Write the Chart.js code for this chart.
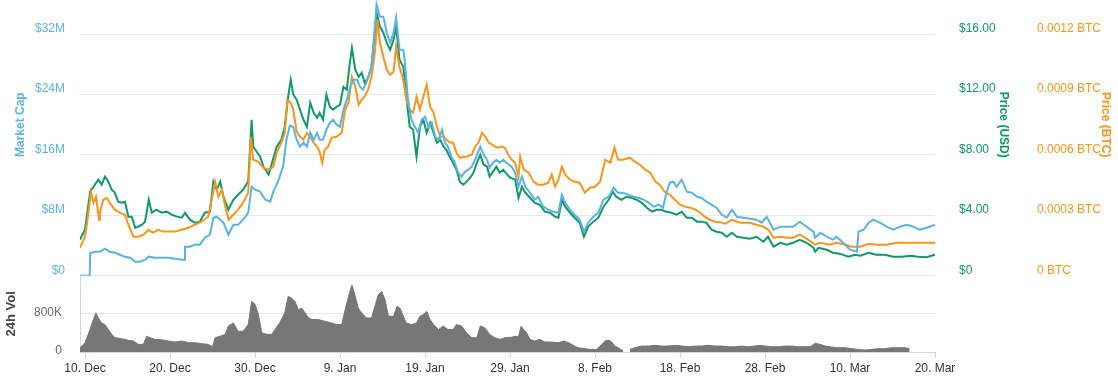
<!DOCTYPE html>
<html>
<head>
<meta charset="utf-8">
<script src="https://cdn.jsdelivr.net/npm/chart.js@4.4.1/dist/chart.umd.min.js"></script>
<style>
  html, body { margin: 0; padding: 0; background: #fff; overflow: hidden; }
  #wrap { position: relative; width: 1118px; height: 376px; overflow: hidden; }
  #mainChart { position: absolute; left: 0; top: -40px; }
  #volChart { position: absolute; left: 0; top: 262px; }
</style>
</head>
<body>
<div id="wrap">
  <canvas id="volChart" width="1118" height="114"></canvas>
  <canvas id="mainChart" width="1118" height="330"></canvas>
</div>
<script>
// x values are days counted from 10 Dec
const xMin = -0.59, xMax = 100;
const xTicks = [0, 10, 20, 30, 40, 50, 60, 70, 80, 90, 100];
const months = ['Jan', 'Feb', 'Mar', 'Apr', 'May', 'Jun', 'Jul', 'Aug', 'Sep', 'Oct', 'Nov', 'Dec'];

// market cap, millions of USD
const marketCap = [
  [-0.6,0],[0.55,0],[0.62,3.05],[0.8,3.05],[1.2,3.18],[1.76,3.18],[2.35,3.58],[2.9,3.18],[3.5,3.05],[4.1,2.78],
  [4.7,2.52],[5.3,2.38],[5.9,1.85],[6.5,1.85],[7.06,2.12],[7.5,2.52],[8.2,2.38],[9.0,2.38],[9.8,2.38],[10.6,2.25],
  [11.4,2.12],[11.7,2.12],[11.76,3.84],[12.35,3.84],[12.9,4.11],[13.5,4.11],[14.1,5.03],[14.7,5.43],[15.1,7.68],[15.5,7.81],
  [15.9,7.42],[16.3,7.02],[16.86,5.43],[17.45,6.75],[18.0,6.75],[18.6,7.42],[19.2,8.34],[19.6,11.79],[20.0,11.39],[20.6,11.13],
  [21.2,10.07],[21.8,9.80],[22.15,11.13],[22.7,12.45],[23.3,14.44],[23.7,18.01],[24.1,19.87],[24.5,19.7],[24.9,18.01],[25.3,17.09],
  [25.7,17.62],[26.1,17.09],[26.5,18.94],[26.9,18.01],[27.3,18.94],[27.6,18.01],[28.0,18.01],[28.4,19.34],[28.8,20.26],[29.2,20.66],
  [29.6,20.0],[30.0,19.73],[30.4,21.99],[30.8,23.31],[31.2,25.03],[31.6,25.96],[32.0,25.96],[32.35,25.03],[32.7,24.64],[33.1,25.56],
  [33.7,27.68],[34.1,32.98],[34.3,35.89],[34.7,34.30],[35.1,34.30],[35.5,32.19],[35.9,30.86],[36.3,32.19],[36.6,34.17],[37.0,29.93],
  [37.45,29.93],[37.6,28.61],[38.0,23.31],[38.4,20.66],[38.8,19.73],[39.2,18.94],[39.6,20.66],[40.0,21.06],[40.4,19.73],[40.8,20.26],
  [41.2,18.41],[41.6,18.01],[42.0,19.34],[42.35,17.62],[42.7,17.09],[43.1,15.76],[43.5,14.97],[43.9,13.64],[44.3,13.11],[44.7,13.77],
  [45.1,14.04],[45.5,14.44],[45.9,15.36],[46.5,17.09],[46.9,16.03],[47.3,15.36],[47.6,14.30],[48.0,14.97],[48.4,15.36],[48.8,14.97],
  [49.2,15.36],[49.6,14.97],[50.0,14.6],[50.2,14.44],[50.6,13.64],[51.0,11.79],[51.4,13.11],[51.8,11.79],[52.35,10.99],[52.9,10.07],
  [53.3,10.46],[53.9,9.14],[54.5,8.74],[55.1,8.48],[55.7,8.34],[56.1,10.73],[56.5,9.67],[57.06,8.74],[57.6,8.08],[58.2,7.42],
  [58.7,5.83],[59.2,7.02],[59.8,7.81],[60.4,8.34],[61.0,10.07],[61.6,10.46],[62.2,11.66],[62.7,10.99],[63.3,10.99],[63.9,10.73],
  [64.5,10.46],[65.1,10.33],[65.7,10.07],[66.3,9.67],[66.9,9.14],[67.45,9.40],[68.0,9.01],[68.4,10.99],[68.8,12.32],[69.2,12.45],
  [69.6,11.79],[70.2,12.72],[70.8,11.13],[71.4,10.99],[72.0,10.46],[72.5,10.33],[73.1,9.80],[73.7,9.40],[74.3,9.01],[74.9,8.1],
  [75.5,7.68],[76.1,8.74],[76.7,7.81],[77.45,7.68],[78.2,7.55],[79.0,7.42],[79.6,7.02],[80.2,7.81],[81.0,6.09],[81.8,6.49],
  [82.55,6.49],[83.3,6.49],[84.1,7.15],[84.9,6.49],[85.7,5.83],[85.9,5.03],[86.5,5.70],[87.25,5.17],[88.0,4.77],[88.4,5.17],
  [89.2,4.37],[90.0,3.44],[90.8,3.18],[91.0,5.83],[91.6,6.09],[92.2,7.02],[92.7,7.42],[93.5,7.02],[94.3,6.49],[95.1,6.09],
  [95.9,6.49],[96.7,6.75],[97.45,6.49],[98.2,6.09],[99.0,6.36],[100,6.75]
];

// price in USD
const priceUsd = [
  [-0.6,2.38],[0,3.05],[0.6,5.56],[1.0,5.89],[1.57,6.36],[1.96,6.03],[2.35,6.56],[2.75,6.23],[3.14,5.70],[3.5,5.50],
  [3.9,4.90],[4.3,4.83],[4.7,4.90],[5.1,3.91],[5.5,3.91],[5.9,3.18],[6.3,3.25],[6.7,3.38],[7.06,3.58],[7.5,5.03],
  [7.85,4.17],[8.4,4.37],[9.0,4.17],[9.6,4.24],[10.2,4.04],[10.8,3.91],[11.4,3.84],[11.76,4.17],[12.35,3.71],[12.9,3.51],
  [13.5,3.58],[14.1,4.17],[14.7,4.24],[15.1,6.23],[15.5,5.70],[15.9,6.23],[16.3,5.23],[16.86,4.37],[17.45,5.03],[18.0,5.36],
  [18.6,5.70],[19.2,6.23],[19.6,10.33],[19.8,8.54],[20.2,8.21],[20.6,7.88],[21.0,7.22],[21.6,6.69],[22.0,7.48],[22.55,8.54],
  [23.1,9.00],[23.5,9.86],[23.9,11.85],[24.2,12.98],[24.5,12.0],[24.9,11.65],[25.3,10.99],[25.7,10.33],[26.1,9.86],[26.5,11.45],
  [26.9,10.79],[27.3,10.46],[27.6,10.79],[28.0,10.33],[28.4,11.98],[28.8,11.19],[29.2,10.99],[29.6,11.19],[30.0,11.32],[30.4,12.51],
  [30.8,12.31],[31.1,13.84],[31.4,15.09],[31.8,13.64],[32.2,13.17],[32.55,13.44],[32.9,12.78],[33.3,13.11],[33.7,13.84],[34.1,16.09],
  [34.3,17.41],[34.7,16.48],[35.1,16.09],[35.5,15.42],[35.9,14.96],[36.3,15.62],[36.6,16.48],[37.0,14.30],[37.45,13.84],[37.8,11.85],
  [38.2,9.86],[38.6,9.67],[39.0,7.88],[39.4,9.86],[39.8,10.33],[40.2,9.47],[40.6,10.13],[41.0,9.47],[41.4,8.80],[41.8,9.00],
  [42.2,8.54],[42.5,8.34],[42.9,7.88],[43.3,7.48],[43.7,7.02],[44.1,6.23],[44.5,6.03],[44.9,6.23],[45.3,6.49],[45.7,6.82],
  [46.1,7.48],[46.5,8.01],[46.9,7.35],[47.3,7.22],[47.6,6.56],[48.0,6.89],[48.4,7.22],[48.8,6.82],[49.2,7.02],[49.6,6.75],
  [50.0,6.49],[50.6,6.36],[51.0,5.16],[51.4,5.89],[51.8,5.50],[52.35,5.16],[52.9,4.83],[53.5,4.70],[54.1,4.24],[54.7,4.17],
  [55.3,3.91],[55.7,3.84],[56.1,5.03],[56.5,4.57],[57.06,4.17],[57.6,3.84],[58.2,3.51],[58.7,2.58],[59.2,3.25],[59.8,3.58],
  [60.4,3.84],[61.0,4.57],[61.6,5.03],[62.1,5.56],[62.5,5.23],[63.1,5.03],[63.7,5.23],[64.3,5.16],[64.9,5.03],[65.5,4.83],
  [66.1,4.50],[66.7,4.24],[67.25,4.37],[67.8,4.37],[68.4,4.24],[69.0,4.17],[69.6,4.04],[70.2,4.24],[70.8,3.84],[71.4,3.84],
  [72.0,3.58],[72.5,3.58],[73.1,3.51],[73.7,3.05],[74.3,2.91],[74.9,2.85],[75.5,2.58],[76.1,2.85],[76.7,2.58],[77.45,2.52],
  [78.2,2.45],[79.0,2.58],[79.8,2.25],[80.35,2.58],[81.0,1.92],[81.8,2.18],[82.55,2.05],[83.3,2.18],[84.1,2.38],[84.9,2.18],
  [85.7,1.85],[85.9,1.59],[86.3,1.85],[87.25,1.72],[88.0,1.52],[88.8,1.46],[89.8,1.26],[90.6,1.39],[91.2,1.32],[92.2,1.52],
  [93.1,1.39],[94.1,1.39],[95.1,1.26],[96.1,1.26],[97.1,1.32],[98.0,1.26],[99.0,1.22],[100,1.39]
];

// price in BTC
const priceBtc = [
  [-0.6,0.000139],[0,0.000194],[0.4,0.000313],[0.7,0.000417],[1.0,0.000363],[1.3,0.000392],[1.65,0.000278],[1.75,0.000313],[2.15,0.000377],[2.55,0.000387],
  [2.9,0.000363],[3.5,0.000328],[4.1,0.000313],[4.7,0.000303],[5.1,0.000253],[5.7,0.000194],[6.3,0.000194],[6.9,0.000204],[7.45,0.000228],[8.0,0.000214],
  [8.6,0.000228],[9.2,0.000219],[9.8,0.000219],[10.6,0.000219],[11.4,0.000228],[12.15,0.000238],[12.9,0.000253],[13.7,0.000268],[14.5,0.000293],[14.9,0.000377],
  [15.3,0.000467],[15.7,0.000392],[16.1,0.000427],[16.5,0.000343],[16.9,0.000278],[17.45,0.000303],[18.0,0.000328],[18.6,0.000363],[19.2,0.000412],[19.5,0.000690],
  [19.8,0.000576],[20.4,0.000566],[21.0,0.000536],[21.6,0.000527],[22.15,0.000541],[22.55,0.000611],[23.1,0.000661],[23.5,0.000710],[23.8,0.000874],[24.2,0.000859],
  [24.5,0.000825],[24.9,0.000715],[25.3,0.000690],[25.7,0.000676],[26.1,0.000710],[26.5,0.000690],[26.9,0.000661],[27.3,0.000641],[27.6,0.000616],[27.9,0.000561],
  [28.2,0.000626],[28.6,0.000641],[29.0,0.000685],[29.6,0.000690],[30.2,0.000710],[30.6,0.000825],[31.0,0.000859],[31.4,0.000988],[31.8,0.000939],[32.2,0.000849],
  [32.55,0.000874],[32.9,0.000889],[33.3,0.000924],[33.7,0.000988],[34.1,0.001108],[34.4,0.001272],[34.7,0.001157],[35.1,0.001088],[35.5,0.001023],[35.9,0.000998],
  [36.3,0.001013],[36.6,0.001137],[37.0,0.001038],[37.45,0.000974],[37.8,0.000874],[38.2,0.000825],[38.6,0.000810],[39.0,0.000889],[39.4,0.000825],[39.8,0.000889],
  [40.2,0.000949],[40.6,0.000839],[41.0,0.000810],[41.4,0.000740],[41.8,0.000690],[42.2,0.000690],[42.5,0.000676],[42.9,0.000661],[43.3,0.000661],[43.7,0.000611],
  [44.1,0.000586],[44.5,0.000591],[44.9,0.000591],[45.5,0.000601],[45.9,0.000641],[46.3,0.000661],[46.7,0.000710],[47.1,0.000690],[47.5,0.000661],[47.9,0.000651],
  [48.2,0.000641],[48.6,0.000636],[49.0,0.000641],[49.4,0.000635],[49.8,0.000601],[50.2,0.000576],[50.6,0.000561],[51.0,0.000492],[51.2,0.000591],[51.6,0.000527],
  [52.2,0.000512],[52.75,0.000467],[53.3,0.000452],[53.9,0.000452],[54.5,0.000462],[54.9,0.000502],[55.3,0.000442],[55.7,0.000477],[56.1,0.000541],[56.5,0.000502],
  [57.06,0.000477],[57.6,0.000467],[58.2,0.000462],[58.8,0.000412],[59.4,0.000437],[60.0,0.000442],[60.6,0.000467],[61.2,0.000576],[61.8,0.000561],[62.3,0.000636],
  [62.7,0.000576],[63.3,0.000576],[64.1,0.000586],[64.7,0.000566],[65.3,0.000551],[65.9,0.000527],[66.5,0.000512],[67.1,0.000467],[67.6,0.000452],[68.2,0.000417],
  [68.8,0.000402],[69.4,0.000377],[70.0,0.000353],[70.6,0.000343],[71.2,0.000338],[71.8,0.000328],[72.4,0.000313],[72.9,0.000293],[73.5,0.000278],[74.1,0.000268],
  [74.7,0.000266],[75.3,0.000258],[76.1,0.000278],[77.1,0.000263],[78.2,0.000263],[79.0,0.000253],[79.8,0.000243],[80.4,0.000228],[81.0,0.000189],[81.8,0.000194],
  [82.55,0.000189],[83.3,0.000189],[84.1,0.000204],[84.9,0.000184],[85.9,0.000154],[86.5,0.000164],[87.6,0.000154],[88.4,0.000164],[89.4,0.000154],[90.2,0.000144],
  [91.2,0.000144],[92.2,0.000159],[93.1,0.000154],[94.3,0.000154],[95.5,0.000164],[96.7,0.000164],[97.8,0.000164],[99.0,0.000164],[100,0.000164]
];

// 24h volume, thousands of USD (null = no data)
const volume = [
  [-0.59,90],[0,195],[0.59,470],[0.98,680],[1.29,820],[1.57,710],[1.96,610],[2.35,575],[2.75,470],[3.14,370],
  [3.53,300],[4.31,280],[5.1,245],[5.7,230],[6.27,160],[6.86,160],[7.25,330],[7.65,300],[8.24,265],[9.02,255],
  [9.8,230],[10.6,210],[11.4,230],[12.15,195],[12.9,195],[13.7,175],[14.5,160],[15.0,110],[15.3,300],[15.9,330],
  [16.5,370],[16.86,545],[17.45,610],[18.0,435],[18.6,435],[19.2,575],[19.6,1060],[20.0,1000],[20.4,785],[20.8,400],
  [21.4,370],[21.96,370],[22.35,470],[22.9,610],[23.5,820],[23.9,1165],[24.3,1130],[24.7,1060],[25.1,885],[25.5,920],
  [25.9,820],[26.3,715],[26.7,680],[27.45,680],[28.2,645],[29.0,610],[29.6,575],[30.2,575],[30.6,885],[31.0,1165],
  [31.4,1405],[31.8,1165],[32.15,920],[32.55,820],[33.1,715],[33.7,715],[34.1,955],[34.5,1200],[34.9,1270],[35.3,1095],
  [35.7,750],[36.3,750],[36.7,955],[37.06,920],[37.45,750],[37.8,610],[38.4,575],[39.0,610],[39.4,750],[39.8,785],
  [40.2,855],[40.6,680],[41.0,575],[41.6,470],[42.15,545],[42.7,470],[43.3,470],[43.7,575],[44.3,545],[44.9,400],
  [45.5,300],[46.1,300],[46.5,545],[47.06,505],[47.6,370],[48.2,300],[48.8,265],[49.4,300],[50.2,310],[50.6,330],
  [51.0,320],[51.3,540],[51.6,470],[51.96,400],[52.35,265],[52.9,230],[53.5,265],[54.1,210],[54.9,210],[55.7,195],
  [56.3,230],[56.9,195],[57.45,140],[58.0,90],[58.8,70],[59.4,55],[60.2,55],[60.8,160],[61.2,230],[61.6,250],
  [61.96,210],[62.35,125],[62.9,70],[63.3,20],[63.6,null],[64.1,55],[64.7,90],[65.5,125],[66.3,125],[67.06,140],
  [67.8,125],[68.6,125],[69.4,140],[70.2,125],[70.98,110],[71.8,125],[72.55,125],[73.3,140],[74.1,125],[74.9,125],
  [75.7,110],[76.5,110],[77.25,125],[78.0,110],[78.8,125],[79.4,140],[80.0,125],[80.8,110],[81.6,110],[82.35,125],
  [83.1,125],[83.9,110],[84.7,110],[85.3,110],[85.9,180],[86.5,160],[87.06,125],[87.85,105],[88.6,90],[89.4,90],
  [90.2,70],[90.98,55],[91.8,40],[92.55,55],[93.3,70],[94.1,70],[94.9,90],[95.7,90],[96.5,90],[97.0,70]
];

const BLUE = '#5cb2e2', GREEN = '#10986a', ORANGE = '#f7951f', VOLGRAY = '#777777';
const GRID = '#e6e6e6', AXIS = '#ccd6eb';

Chart.defaults.font.family = '"Helvetica Neue", Helvetica, Arial, "Liberation Sans", sans-serif';
Chart.defaults.font.size = 12;

function toXY(pairs) {
  return pairs.map(p => ({ x: p[0], y: p[1] }));
}

function dayLabel(d) {
  const t = new Date(2017, 11, 10 + d);
  return t.getDate() + '. ' + months[t.getMonth()];
}

// fixed axis width, and no extra room for the end labels
function fixWidth(w) {
  return s => { s.width = w; s.paddingTop = 0; s.paddingBottom = 0; };
}

// main chart: market cap + prices
const mainChart = new Chart(document.getElementById('mainChart'), {
  type: 'line',
  data: {
    datasets: [
      { label: 'Market Cap', data: toXY(marketCap), yAxisID: 'mcap', borderColor: BLUE, order: 0 },
      { label: 'Price (BTC)', data: toXY(priceBtc), yAxisID: 'btc', borderColor: ORANGE, order: 1 },
      { label: 'Price (USD)', data: toXY(priceUsd), yAxisID: 'usd', borderColor: GREEN, order: 2 }
    ]
  },
  options: {
    responsive: false,
    animation: false,
    events: [],
    layout: { padding: { top: 13.7, bottom: 14.3, left: 0, right: 0 } },
    elements: {
      point: { radius: 0 },
      line: { borderWidth: 2, tension: 0, fill: false }
    },
    plugins: { legend: { display: false }, tooltip: { enabled: false } },
    scales: {
      x: { type: 'linear', min: xMin, max: xMax, display: false },
      mcap: {
        position: 'left',
        min: 0, max: 40,
        ticks: {
          stepSize: 8, padding: 15, labelOffset: -5.5, color: BLUE,
          callback: v => v === 0 ? '$0' : '$' + v + 'M'
        },
        grid: { color: GRID, drawTicks: false },
        border: { display: false },
        title: { display: true, text: 'Market Cap', color: BLUE, font: { weight: 'bold', size: 12 }, padding: { top: 13, bottom: 0 } },
        afterFit: fixWidth(80)
      },
      usd: {
        position: 'right',
        weight: 0,
        min: 0, max: 20,
        ticks: {
          stepSize: 4, padding: 16, labelOffset: -5.5, color: GREEN,
          callback: v => v === 0 ? '$0' : '$' + v.toFixed(2)
        },
        grid: { display: false },
        border: { display: false },
        title: { display: true, text: 'Price (USD)', color: GREEN, font: { weight: 'bold', size: 12 }, padding: { top: 2, bottom: 0 } },
        afterFit: fixWidth(78)
      },
      btc: {
        position: 'right',
        weight: 1,
        min: 0, max: 0.0015,
        ticks: {
          stepSize: 0.0003, padding: 16, labelOffset: -5.5, color: ORANGE,
          callback: v => v === 0 ? '0 BTC' : v.toFixed(4) + ' BTC'
        },
        grid: { display: false },
        border: { display: false },
        title: { display: true, text: 'Price (BTC)', color: ORANGE, font: { weight: 'bold', size: 12 }, padding: { top: 5, bottom: 0 } },
        afterFit: fixWidth(105)
      }
    }
  }
});

// volume chart below
const volChart = new Chart(document.getElementById('volChart'), {
  type: 'line',
  data: {
    datasets: [{
      label: '24h Vol',
      data: toXY(volume),
      yAxisID: 'vol',
      borderColor: VOLGRAY,
      borderWidth: 1,
      backgroundColor: VOLGRAY,
      fill: 'origin',
      spanGaps: false,
      pointRadius: 0,
      tension: 0
    }]
  },
  options: {
    responsive: false,
    animation: false,
    events: [],
    layout: { padding: { top: 13.7, bottom: 2, left: 0, right: 183 } },
    plugins: { legend: { display: false }, tooltip: { enabled: false } },
    scales: {
      x: {
        type: 'linear', min: xMin, max: xMax,
        afterBuildTicks: s => { s.ticks = xTicks.map(v => ({ value: v })); },
        ticks: { callback: v => dayLabel(v), color: '#333', padding: 3, maxRotation: 0, autoSkip: false },
        grid: { drawOnChartArea: false, drawTicks: true, tickLength: 6, color: AXIS },
        border: { display: true, color: AXIS },
        afterFit: s => { s.height = 22; }
      },
      vol: {
        position: 'left',
        min: 0, max: 1600,
        ticks: {
          stepSize: 800, padding: 18, labelOffset: -1, color: '#666',
          callback: v => v === 0 ? '0' : (v === 800 ? '800K' : '')
        },
        grid: { color: GRID, drawTicks: false },
        border: { display: true, color: AXIS },
        title: { display: true, text: '24h Vol', color: '#444', font: { weight: 'bold', size: 13 }, padding: { top: 4, bottom: 0 } },
        afterFit: fixWidth(80)
      }
    }
  }
});
</script>
</body>
</html>
